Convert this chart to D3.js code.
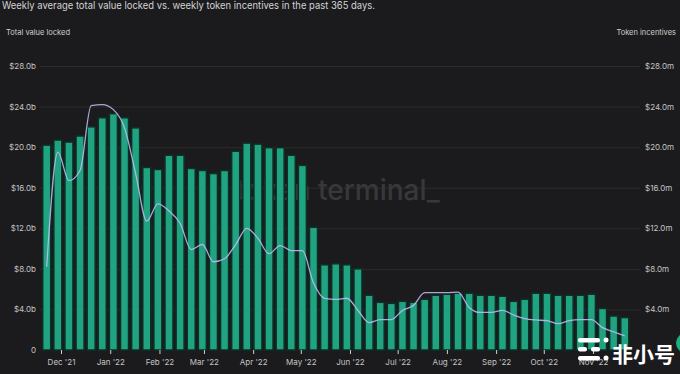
<!DOCTYPE html>
<html>
<head>
<meta charset="utf-8">
<script src="https://cdn.jsdelivr.net/npm/d3@7/dist/d3.min.js"></script>
<style>
  body { margin: 0; background: #1b1b1d; }
  svg { display: block; font-family: Inter, "Noto Sans", sans-serif; }
</style>
</head>
<body>
<div id="chart"></div>
<script>
// week starting dates (categories)
var weeks = ["2021-11-22","2021-11-29","2021-12-06","2021-12-13","2021-12-20","2021-12-27",
  "2022-01-03","2022-01-10","2022-01-17","2022-01-24","2022-01-31","2022-02-07","2022-02-14",
  "2022-02-21","2022-02-28","2022-03-07","2022-03-14","2022-03-21","2022-03-28","2022-04-04",
  "2022-04-11","2022-04-18","2022-04-25","2022-05-02","2022-05-09","2022-05-16","2022-05-23",
  "2022-05-30","2022-06-06","2022-06-13","2022-06-20","2022-06-27","2022-07-04","2022-07-11",
  "2022-07-18","2022-07-25","2022-08-01","2022-08-08","2022-08-15","2022-08-22","2022-08-29",
  "2022-09-05","2022-09-12","2022-09-19","2022-09-26","2022-10-03","2022-10-10","2022-10-17",
  "2022-10-24","2022-10-31","2022-11-07","2022-11-14","2022-11-21"];

// total value locked, $ billions
var tvl = [20.2,20.7,20.5,21.1,22.0,22.9,23.3,22.9,21.9,18.0,17.8,19.2,19.2,17.9,17.7,17.4,17.7,
  19.6,20.4,20.3,19.95,19.95,19.2,18.2,12.1,8.4,8.5,8.4,8.0,5.4,4.7,4.6,4.8,4.7,5.0,5.4,5.5,5.6,
  5.6,5.4,5.4,5.3,4.8,5.0,5.6,5.6,5.4,5.4,5.4,5.5,4.1,3.35,3.2];

// token incentives, $ millions
var incentives = [8.2,19.5,16.7,17.7,24.1,24.2,23.7,21.9,17.4,12.7,14.4,13.7,12.5,9.9,10.4,8.7,9.0,
  10.4,12.0,11.0,9.5,10.3,9.8,9.8,6.6,5.1,5.0,5.1,3.9,2.7,3.0,3.0,3.9,4.4,5.65,5.65,5.65,5.7,
  4.2,3.7,3.7,3.9,3.45,3.1,2.96,2.9,2.6,2.9,3.0,3.0,2.2,1.8,1.4];

var yTicks = [0,4,8,12,16,20,24,28];
var monthTicks = ["2021-12-01","2022-01-01","2022-02-01","2022-03-01","2022-04-01","2022-05-01",
  "2022-06-01","2022-07-01","2022-08-01","2022-09-01","2022-10-01","2022-11-01"];

var W = 680, H = 374;
var plotLeft = 40, plotRight = 640, plotTop = 66, plotBottom = 350;

var parseDate = d3.timeParse("%Y-%m-%d");
var data = weeks.map(function(w, i) {
  return {date: parseDate(w), tvl: tvl[i], inc: incentives[i]};
});

var svg = d3.select("#chart").append("svg")
  .attr("width", W).attr("height", H);

svg.append("rect").attr("width", W).attr("height", H).attr("fill", "#1b1b1d");

// SCALES
var x = d3.scaleTime()
  .domain([parseDate("2021-12-01"), parseDate("2022-11-01")])
  .range([61, 593]);
var yLeft = d3.scaleLinear().domain([0, 28]).range([plotBottom, plotTop]);
var yRight = d3.scaleLinear().domain([0, 28]).range([plotBottom, plotTop]);

// gridlines
svg.append("g").selectAll("line")
  .data(yTicks.slice(1))
  .enter().append("line")
  .attr("x1", plotLeft).attr("x2", plotRight)
  .attr("y1", function(d) { return yLeft(d) + 0.5; })
  .attr("y2", function(d) { return yLeft(d) + 0.5; })
  .attr("stroke", "#2c2c2f").attr("stroke-width", 1);

// watermark in the back
svg.append("text")
  .attr("x", 236).attr("y", 200)
  .attr("fill", "#38383b")
  .attr("font-size", 28).attr("font-weight", 500)
  .text("token terminal_");

// titles
svg.append("text")
  .attr("x", 2).attr("y", 9)
  .attr("fill", "#d4d4d4").attr("font-size", 10.5)
  .attr("textLength", 373).attr("lengthAdjust", "spacingAndGlyphs")
  .text("Weekly average total value locked vs. weekly token incentives in the past 365 days.");

svg.append("text")
  .attr("x", 6).attr("y", 35)
  .attr("fill", "#cfcfcf").attr("font-size", 7.5)
  .text("Total value locked");

svg.append("text")
  .attr("x", 676).attr("y", 35).attr("text-anchor", "end")
  .attr("fill", "#cfcfcf").attr("font-size", 7.5)
  .text("Token incentives");

// BARS
var barW = 8;
svg.append("g").selectAll("rect")
  .data(data)
  .enter().append("rect")
  .attr("x", function(d) { return x(d.date) - barW / 2; })
  .attr("y", function(d) { return yLeft(d.tvl); })
  .attr("width", barW)
  .attr("height", function(d) { return plotBottom - yLeft(d.tvl); })
  .attr("fill", "#20a380")
  .attr("stroke", "#0d2f26")
  .attr("stroke-width", 1.5);

// LINE
var line = d3.line()
  .x(function(d) { return x(d.date); })
  .y(function(d) { return yRight(d.inc); })
  .curve(d3.curveMonotoneX);

svg.append("path")
  .datum(data)
  .attr("d", line)
  .attr("fill", "none")
  .attr("stroke", "#c6bdf7")
  .attr("stroke-opacity", 0.85)
  .attr("stroke-width", 1.3);

// AXES
var leftAxis = d3.axisLeft(yLeft)
  .tickValues(yTicks)
  .tickSize(0).tickPadding(0)
  .tickFormat(function(d) { return d === 0 ? "0" : "$" + d.toFixed(1) + "b"; });

var gl = svg.append("g")
  .attr("transform", "translate(36,0)")
  .call(leftAxis);

var rightAxis = d3.axisRight(yRight)
  .tickValues(yTicks.slice(1))
  .tickSize(0).tickPadding(0)
  .tickFormat(function(d) { return "$" + d.toFixed(1) + "m"; });

var gr = svg.append("g")
  .attr("transform", "translate(645,0)")
  .call(rightAxis);

var xAxis = d3.axisBottom(x)
  .tickValues(monthTicks.map(parseDate))
  .tickSize(4).tickPadding(5)
  .tickFormat(d3.timeFormat("%b '%y"));

var gx = svg.append("g")
  .attr("transform", "translate(0," + plotBottom + ")")
  .call(xAxis);

[gl, gr, gx].forEach(function(g) {
  g.select(".domain").remove();
  g.selectAll("text")
    .attr("fill", "#c4c4c4")
    .attr("font-size", 8)
    .attr("font-family", "Inter, sans-serif");
  g.selectAll("line").attr("stroke", "#d0d0d0");
});

// bottom-right site watermark
var wm = svg.append("g").attr("fill", "#ffffff");
wm.append("rect").attr("x", 578).attr("y", 338).attr("width", 22).attr("height", 4.5).attr("rx", 2);
wm.append("rect").attr("x", 578).attr("y", 347).attr("width", 9).attr("height", 4.5).attr("rx", 2);
wm.append("rect").attr("x", 591).attr("y", 347).attr("width", 9).attr("height", 4.5).attr("rx", 2);
wm.append("rect").attr("x", 578).attr("y", 356).attr("width", 22).attr("height", 4.5).attr("rx", 2);
wm.append("circle").attr("cx", 606).attr("cy", 340).attr("r", 2.5);
wm.append("circle").attr("cx", 606).attr("cy", 358).attr("r", 2.5);
wm.append("text")
  .attr("x", 612).attr("y", 362)
  .attr("font-family", "'Noto Sans CJK SC', sans-serif")
  .attr("font-weight", 700).attr("font-size", 21)
  .text("非小号");
svg.append("circle").attr("cx", 686).attr("cy", 343).attr("r", 10).attr("fill", "#1fae7c");
</script>
</body>
</html>
